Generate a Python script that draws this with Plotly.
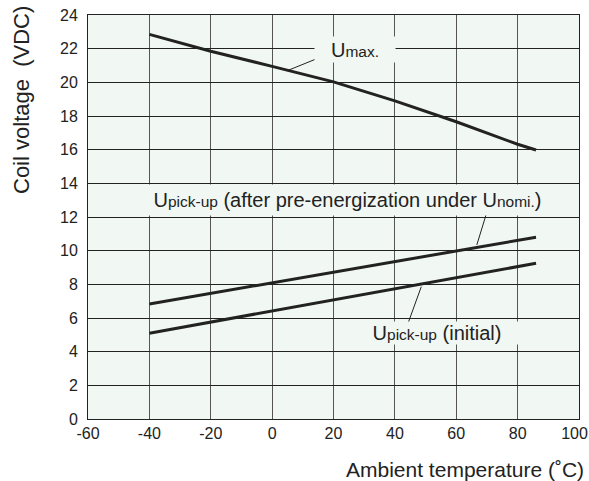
import plotly.graph_objects as go

# Data
umax_t = [-40, -20, 0, 20, 40, 60, 80, 86]
umax_v = [22.85, 21.85, 20.95, 20.03, 18.9, 17.66, 16.32, 15.98]

after_t = [-40, 86]
after_v = [6.83, 10.8]

init_t = [-40, 86]
init_v = [5.1, 9.25]

x_ticks = [-60, -40, -20, 0, 20, 40, 60, 80, 100]
x_ticktext = ["-60", "-40", "-20", "0", "20", "40", "60", "80", "100  "]
y_ticks = list(range(0, 25, 2))

BG = "#f1f7f3"
LINE = "#222222"
FONT = "Liberation Sans, Arial, sans-serif"

fig = go.Figure()
for t, v in [(umax_t, umax_v), (after_t, after_v), (init_t, init_v)]:
    fig.add_trace(go.Scatter(x=t, y=v, mode="lines", line=dict(color=LINE, width=3),
                             showlegend=False, hoverinfo="skip"))

# leader lines
leaders = [
    ((14.1, 21.37), (4.9, 20.69)),
    ((70.2, 12.42), (66.7, 10.34)),
    ((44.3, 5.69), (48.6, 7.86)),
]
for (x0, y0), (x1, y1) in leaders:
    fig.add_shape(type="line", x0=x0, y0=y0, x1=x1, y1=y1, xref="x", yref="y",
                  line=dict(color=LINE, width=1), layer="above")

S = "<span style='font-size:15.5px'>%s</span>"
labels = [
    (27.0, 21.95, "U" + S % "max.", 80, 25),
    (24.7, 13.0, "U" + S % "pick-up" + " (after pre-energization under U" + S % "nomi." + ")", 405, 30),
    (53.6, 5.12, "U" + S % "pick-up" + " (initial)", 170, 22),
]
for x, y, txt, w, h in labels:
    fig.add_annotation(x=x, y=y, xref="x", yref="y", text=txt, showarrow=False,
                       font=dict(size=20, color="#222", family=FONT),
                       bgcolor=BG, width=w, height=h, borderpad=0)

# axis titles as annotations (paper coords; plot spans 491 x 404 px)
fig.add_annotation(x=1 + 7 / 491, xref="paper", xanchor="right", y=-(469 - 419) / 404,
                   yref="paper", yanchor="middle",
                   text="Ambient temperature (˚C)", showarrow=False,
                   font=dict(size=21, color="#222", family=FONT))
fig.add_annotation(x=(22 - 88) / 491, xref="paper", xanchor="center",
                   y=(419 - 100) / 404, yref="paper", yanchor="middle",
                   text="Coil voltage  (VDC)", showarrow=False, textangle=-90,
                   font=dict(size=22, color="#222", family=FONT))

fig.update_layout(
    width=589, height=481,
    margin=dict(l=88, r=10, t=15, b=62),
    paper_bgcolor="white", plot_bgcolor=BG,
    font=dict(family=FONT, size=16, color="#222"),
    xaxis=dict(range=[-60, 100], tickvals=x_ticks, ticktext=x_ticktext, showgrid=True,
               gridcolor="#555", gridwidth=1, zeroline=False, showline=True,
               linecolor="#222", linewidth=1, mirror=True, ticks="", tickfont=dict(size=16),
               ticklabeloverflow="allow", automargin=False),
    yaxis=dict(range=[0, 24], tickvals=y_ticks, showgrid=True, gridcolor="#222",
               gridwidth=1, zeroline=False, showline=True, linecolor="#222", linewidth=1,
               mirror=True, ticks="", tickfont=dict(size=16), ticklabelstandoff=6,
               automargin=False),
)

fig.write_html("out.html", config={"displayModeBar": False},
               post_script="document.body.style.margin='0';document.body.style.overflow='hidden';")
